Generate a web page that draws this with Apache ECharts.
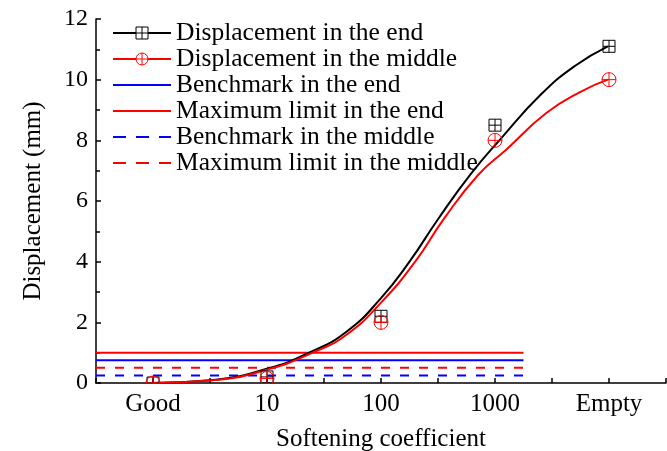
<!DOCTYPE html>
<html>
<head>
<meta charset="utf-8">
<script src="https://cdn.jsdelivr.net/npm/echarts@6/dist/echarts.min.js"></script>
<style>html,body{margin:0;padding:0;background:#fff}#c{width:667px;height:451px}</style>
</head>
<body>
<div id="c"></div>
<script>
// Category tick labels (positions 0..4 on the x axis)
var categories = ['Good', '10', '100', '1000', 'Empty'];
// Measured points
var endValues = [0.0, 0.2, 2.2, 8.5, 11.1];
var midValues = [0.0, 0.15, 2.0, 8.0, 10.0];
// Fitted curves (x in category units)
var endFitX = [0, 0.5, 1.0, 1.37, 1.7, 2.0, 2.25, 2.5, 2.79, 3.05, 3.4, 3.7, 3.99];
var endFitY = [0.0, 0.09, 0.47, 1.0, 1.7, 2.8, 4.0, 5.4, 6.9, 8.05, 9.5, 10.45, 11.1];
var midFitX = [0, 0.5, 1.0, 1.4, 1.7, 2.0, 2.3, 2.55, 2.85, 3.1, 3.45, 3.75, 3.99];
var midFitY = [0.0, 0.08, 0.44, 1.0, 1.6, 2.65, 4.0, 5.4, 6.85, 7.7, 8.9, 9.6, 10.0];
// Reference levels
var benchEnd = 0.75, maxEnd = 1.0, benchMid = 0.25, maxMid = 0.5;
var refLineX = [-0.5, 3.25];
var legendNames = ['Displacement in the end', 'Displacement in the middle', 'Benchmark in the end',
  'Maximum limit in the end', 'Benchmark in the middle', 'Maximum limit in the middle'];

var FONT = '"Times New Roman", "Liberation Serif", serif';
var SQ = 'path://M0,0H10V10H0Z M5,0V10 M0,5H10';
var CI = 'path://M10,5A5,5,0,1,1,0,5A5,5,0,1,1,10,5Z M5,0V10 M0,5H10';

function pairs(xs, ys) { return xs.map(function (x, i) { return [x, ys[i]]; }); }
function pts(vals) { return vals.map(function (v, i) { return [i, v]; }); }
function hline(v) { return refLineX.map(function (x) { return [x, v]; }); }

function squareMarker(params, api) {
  var p = api.coord([api.value(0), api.value(1)]);
  var h = 6, st = { stroke: '#000', lineWidth: 1, fill: 'none' };
  return { type: 'group', children: [
    { type: 'rect', shape: { x: p[0] - h, y: p[1] - h, width: 2 * h, height: 2 * h }, style: st },
    { type: 'line', shape: { x1: p[0], y1: p[1] - h, x2: p[0], y2: p[1] + h }, style: st },
    { type: 'line', shape: { x1: p[0] - h, y1: p[1], x2: p[0] + h, y2: p[1] }, style: st }
  ] };
}
function circleMarker(params, api) {
  var p = api.coord([api.value(0), api.value(1)]);
  var r = 7, st = { stroke: '#ff0000', lineWidth: 1, fill: 'none' };
  return { type: 'group', children: [
    { type: 'circle', shape: { cx: p[0], cy: p[1], r: r }, style: st },
    { type: 'line', shape: { x1: p[0], y1: p[1] - r, x2: p[0], y2: p[1] + r }, style: st },
    { type: 'line', shape: { x1: p[0] - r, y1: p[1], x2: p[0] + r, y2: p[1] }, style: st }
  ] };
}

var chart = echarts.init(document.getElementById('c'), null, { renderer: 'canvas' });
chart.setOption({
  animation: false,
  grid: { left: 96, right: 1, top: 19, bottom: 68, containLabel: false, outerBoundsMode: 'none' },
  legend: {
    orient: 'vertical', left: 107, top: 15, itemGap: 0, itemWidth: 58, itemHeight: 15,
    selectedMode: false,
    textStyle: { fontFamily: FONT, fontSize: 25.5, color: '#000' },
    data: [
      { name: legendNames[0], itemStyle: { color: '#fff', borderColor: '#000', borderWidth: 1 }, lineStyle: { color: '#000', width: 2 } },
      { name: legendNames[1], itemStyle: { color: '#fff', borderColor: '#ff0000', borderWidth: 1 }, lineStyle: { color: '#ff0000', width: 2 } },
      { name: legendNames[2], itemStyle: { opacity: 0 }, lineStyle: { color: '#0000ff', width: 2 } },
      { name: legendNames[3], itemStyle: { opacity: 0 }, lineStyle: { color: '#ff0000', width: 2 } },
      { name: legendNames[4], itemStyle: { opacity: 0 }, lineStyle: { color: '#0000ff', width: 2, type: [13, 10] } },
      { name: legendNames[5], itemStyle: { opacity: 0 }, lineStyle: { color: '#ff0000', width: 2, type: [13, 10] } }
    ]
  },
  xAxis: {
    type: 'value', min: -0.5, max: 4.5, interval: 0.5,
    name: 'Softening coefficient', nameLocation: 'middle', nameGap: 44,
    nameTextStyle: { fontFamily: FONT, fontSize: 25, color: '#000' },
    axisLine: { onZero: false, lineStyle: { color: '#000', width: 1.5 } },
    axisTick: { inside: true, length: 5, lineStyle: { color: '#000', width: 1.5 } },
    axisLabel: {
      margin: 9, fontFamily: FONT, fontSize: 25, color: '#000',
      formatter: function (v) { return Number.isInteger(v) && categories[v] !== undefined ? categories[v] : ''; }
    },
    splitLine: { show: false }
  },
  yAxis: {
    type: 'value', min: 0, max: 12, interval: 2,
    name: 'Displacement (mm)', nameLocation: 'middle', nameGap: 50,
    nameTextStyle: { fontFamily: FONT, fontSize: 25, color: '#000' },
    axisLine: { show: true, onZero: false, lineStyle: { color: '#000', width: 1.5 } },
    axisTick: { show: true, inside: true, length: 5, lineStyle: { color: '#000', width: 1.5 } },
    minorTick: { show: true, splitNumber: 2, length: 4, lineStyle: { color: '#000', width: 1.5 } },
    axisLabel: { margin: 8, fontFamily: FONT, fontSize: 24, color: '#000' },
    splitLine: { show: false }
  },
  series: [
    { name: legendNames[0], type: 'line', data: pairs(endFitX, endFitY), smooth: 0.5, showSymbol: false, symbol: SQ,
      lineStyle: { color: '#000', width: 2 }, itemStyle: { color: '#000' }, z: 3 },
    { name: legendNames[1], type: 'line', data: pairs(midFitX, midFitY), smooth: 0.5, showSymbol: false, symbol: CI,
      lineStyle: { color: '#ff0000', width: 2 }, itemStyle: { color: '#ff0000' }, z: 3 },
    { name: legendNames[2], type: 'line', data: hline(benchEnd), symbol: 'none', lineStyle: { color: '#0000ff', width: 2 }, itemStyle: { color: '#0000ff' }, z: 2 },
    { name: legendNames[3], type: 'line', data: hline(maxEnd), symbol: 'none', lineStyle: { color: '#ff0000', width: 2 }, itemStyle: { color: '#ff0000' }, z: 2 },
    { name: legendNames[4], type: 'line', data: hline(benchMid), symbol: 'none', lineStyle: { color: '#0000ff', width: 2, type: [9, 10] }, itemStyle: { color: '#0000ff' }, z: 2 },
    { name: legendNames[5], type: 'line', data: hline(maxMid), symbol: 'none', lineStyle: { color: '#ff0000', width: 2, type: [9, 10] }, itemStyle: { color: '#ff0000' }, z: 2 },
    { name: 'endPoints', type: 'custom', data: pts(endValues), renderItem: squareMarker, clip: true, z: 4 },
    { name: 'midPoints', type: 'custom', data: pts(midValues), renderItem: circleMarker, clip: true, z: 5 }
  ]
});
</script>
</body>
</html>
